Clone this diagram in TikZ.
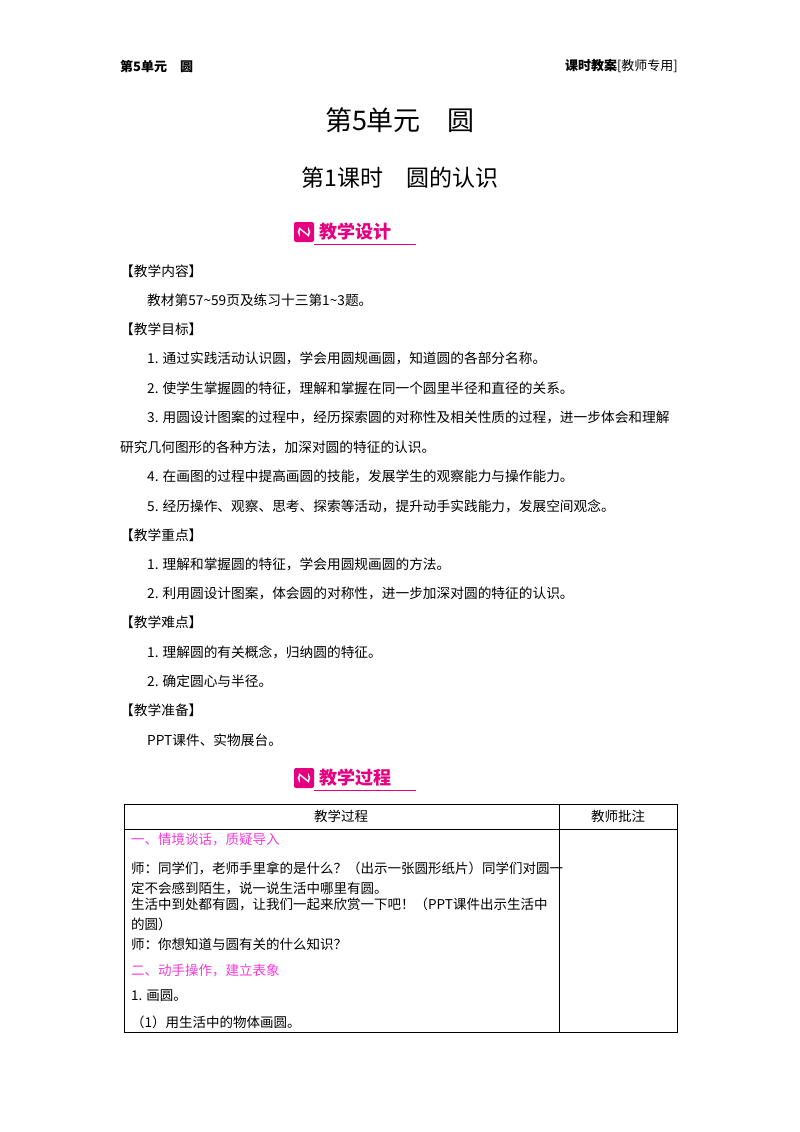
\documentclass[tikz,border=0pt]{standalone}
\usepackage{fontspec}
\setmainfont{Noto Sans CJK SC}
\definecolor{badge}{HTML}{E4007F}
\definecolor{hd}{HTML}{F43BD8}
\begin{document}
\begin{tikzpicture}[x=1pt,y=-1pt,
 txt/.style={anchor=west,inner sep=0pt,font=\fontsize{13.7}{16}\selectfont},
 ttxt/.style={anchor=west,inner sep=0pt,font=\fontsize{13.5}{20}\selectfont,align=left},
 pinkt/.style={ttxt,text=hd}]
\useasboundingbox (0,0) rectangle (800,1132);
\node[anchor=west,inner sep=0pt,font=\fontsize{13}{15}\bfseries] (h1) at (120,66) {第5单元\quad 圆};
\node[anchor=east,inner sep=0pt,font=\fontsize{13}{15}\selectfont] (h2) at (678,66) {\textbf{课时教案}[教师专用]};
\node[font=\fontsize{27}{30}\selectfont] (t1) at (400,120) {第5单元\quad 圆};
\node[font=\fontsize{23}{26}\selectfont] (t2) at (400,178) {第1课时\quad 圆的认识};
% badges
\foreach \y/\s/\n in {232/教学设计/b1,778/教学过程/b2}{
 \fill[badge,rounded corners=2pt] (294,\y-10) rectangle (314,\y+10);
 \draw[white,line width=1.6pt] (304,\y) circle (5.5);
 \fill[badge] (300,\y-7) rectangle (308,\y+7);
 \draw[white,line width=1.4pt] (299,\y-4) -- (309,\y+4);
 \node[anchor=west,inner sep=0pt,text=badge,font=\fontsize{18}{20}\bfseries] (\n) at (319,\y) {\s};
 \draw[badge,line width=0.8pt] (314,\y+12) -- (416,\y+12);
}
\node[txt] (a1) at (120,271) {【教学内容】};
\node[txt] (a2) at (147,300) {教材第57\textasciitilde59页及练习十三第1\textasciitilde3题。};
\node[txt] (a3) at (120,329) {【教学目标】};
\node[txt] (a4) at (147,358) {1. 通过实践活动认识圆，学会用圆规画圆，知道圆的各部分名称。};
\node[txt] (a5) at (147,388) {2. 使学生掌握圆的特征，理解和掌握在同一个圆里半径和直径的关系。};
\node[txt] (a6) at (147,417) {3. 用圆设计图案的过程中，经历探索圆的对称性及相关性质的过程，进一步体会和理解};
\node[txt] (a7) at (120,447) {研究几何图形的各种方法，加深对圆的特征的认识。};
\node[txt] (a8) at (147,476) {4. 在画图的过程中提高画圆的技能，发展学生的观察能力与操作能力。};
\node[txt] (a9) at (147,506) {5. 经历操作、观察、思考、探索等活动，提升动手实践能力，发展空间观念。};
\node[txt] (b1t) at (120,535) {【教学重点】};
\node[txt] (b2t) at (147,564) {1. 理解和掌握圆的特征，学会用圆规画圆的方法。};
\node[txt] (b3t) at (147,593) {2. 利用圆设计图案，体会圆的对称性，进一步加深对圆的特征的认识。};
\node[txt] (c1) at (120,622) {【教学难点】};
\node[txt] (c2) at (147,652) {1. 理解圆的有关概念，归纳圆的特征。};
\node[txt] (c3) at (147,681) {2. 确定圆心与半径。};
\node[txt] (d1) at (120,710) {【教学准备】};
\node[txt] (d2) at (147,740) {PPT课件、实物展台。};
% table
\draw[line width=0.9pt] (124,804) rectangle (677,1032);
\draw[line width=0.7pt] (124,829) -- (677,829) (559,804) -- (559,1032);
\node[font=\fontsize{13.5}{16}\selectfont] (th1) at (341,816) {教学过程};
\node[font=\fontsize{13.5}{16}\selectfont] (th2) at (618,816) {教师批注};
\node[pinkt] (r1) at (131,840) {一、情境谈话，质疑导入};
\node[ttxt] (r2) at (131,878) {师：同学们，老师手里拿的是什么？（出示一张圆形纸片）同学们对圆一\\定不会感到陌生，说一说生活中哪里有圆。};
\node[ttxt] (r3) at (131,914) {生活中到处都有圆，让我们一起来欣赏一下吧！（PPT课件出示生活中\\的圆）};
\node[ttxt] (r4) at (131,944) {师：你想知道与圆有关的什么知识？};
\node[pinkt] (r5) at (131,970) {二、动手操作，建立表象};
\node[ttxt] (r6) at (131,996) {1. 画圆。};
\node[ttxt] (r7) at (131,1022) {（1）用生活中的物体画圆。};
\end{tikzpicture}
\end{document}
